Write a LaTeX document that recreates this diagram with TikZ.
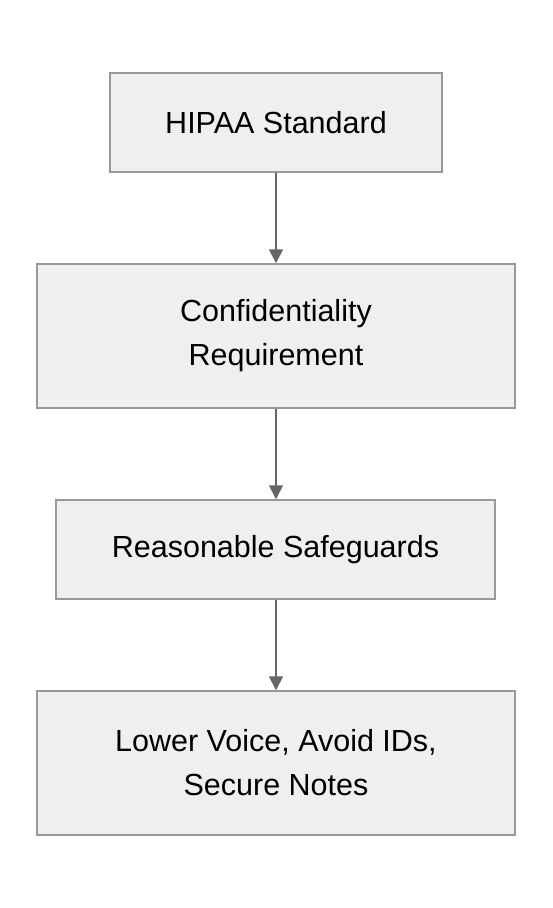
\documentclass[tikz,border=0pt]{standalone}
\usepackage{fontspec}
\setmainfont{Liberation Sans}
\usetikzlibrary{arrows.meta}
\definecolor{boxfill}{HTML}{EFEFEF}
\definecolor{boxline}{HTML}{999999}
\definecolor{arrowc}{HTML}{666666}
\begin{document}
\begin{tikzpicture}[x=1pt,y=1pt,
  flowbox/.style={draw=boxline,fill=boxfill,line width=1.5pt,inner sep=0pt,align=center,
    font=\fontsize{30.5}{44}\selectfont,text=black},
  flowarrow/.style={draw=arrowc,line width=1.8pt,-{Triangle[length=14pt,width=14pt]}}]
\useasboundingbox (0,0) rectangle (552,-908);
\fill[white] (0,0) rectangle (552,-908);
\node[flowbox,minimum width=332pt,minimum height=99pt] (a) at (276,-122.5) {HIPAA Standard};
\node[flowbox,minimum width=478pt,minimum height=144pt] (b) at (276,-336) {Confidentiality\\Requirement};
\node[flowbox,minimum width=439pt,minimum height=99pt] (c) at (275.5,-549.5) {Reasonable Safeguards};
\node[flowbox,minimum width=478pt,minimum height=144pt] (d) at (276,-763) {Lower Voice, Avoid IDs,\\Secure Notes};
\draw[flowarrow] (a.south -| 276,0) -- (b.north -| 276,0);
\draw[flowarrow] (b.south -| 276,0) -- (c.north -| 276,0);
\draw[flowarrow] (c.south -| 276,0) -- (d.north -| 276,0);
\end{tikzpicture}
\end{document}
